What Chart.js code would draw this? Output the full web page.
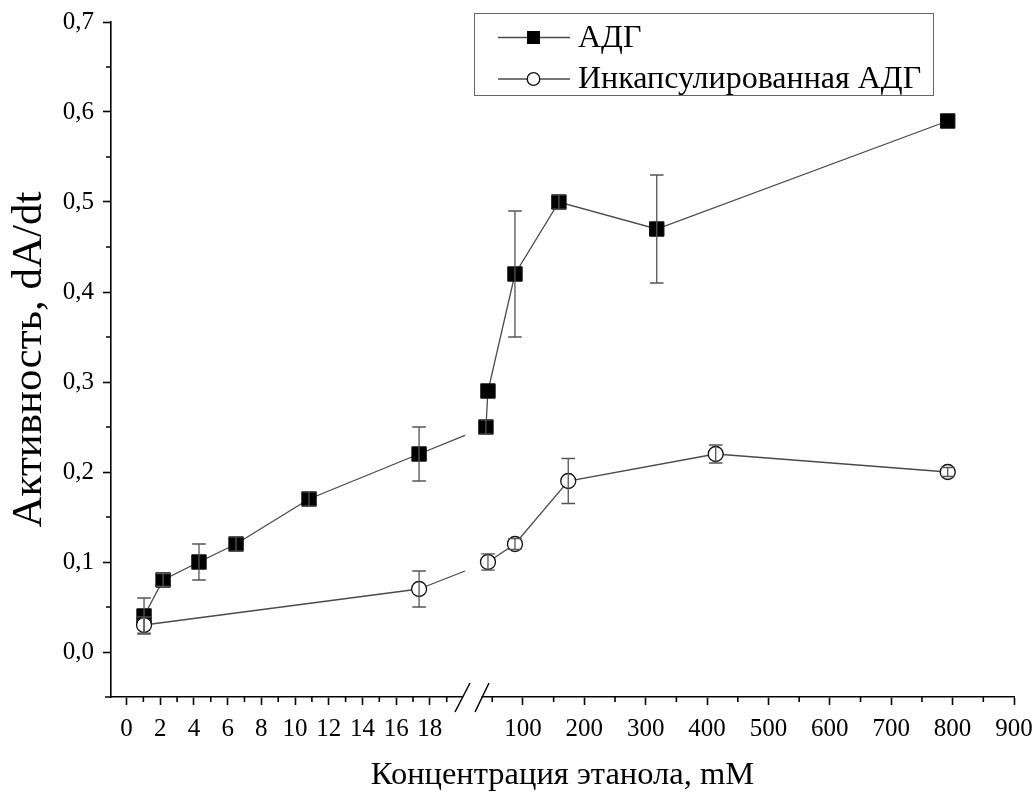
<!DOCTYPE html>
<html>
<head>
<meta charset="utf-8">
<script src="https://cdn.jsdelivr.net/npm/chart.js@4"></script>
<style>
  html, body { margin: 0; padding: 0; background: #fff; }
  canvas { display: block; }
</style>
</head>
<body>
<canvas id="c" width="1036" height="796"></canvas>
<script>
// ---- data ----
const seriesNames = ['АДГ', 'Инкапсулированная АДГ'];

const adgConcLeft  = [1.04, 2.17, 4.3, 6.5, 10.83, 17.36];
const adgLeft      = [0.04, 0.08, 0.10, 0.12, 0.17, 0.22];
const adgLeftErr   = [0.02, 0.007, 0.02, 0.008, 0.008, 0.03];
const adgConcRight = [39.7, 43, 87, 158.6, 318, 792];
const adgRight     = [0.25, 0.29, 0.42, 0.50, 0.47, 0.59];
const adgRightErr  = [0.008, 0, 0.07, 0.008, 0.06, 0];

const encConcLeft  = [1.04, 17.36];
const encLeft      = [0.03, 0.07];
const encLeftErr   = [0.009, 0.02];
const encConcRight = [43, 87, 173.8, 414, 792];
const encRight     = [0.10, 0.12, 0.19, 0.22, 0.20];
const encRightErr  = [0.009, 0.006, 0.025, 0.01, 0.005];

const xLeftMajor  = [0, 2, 4, 6, 8, 10, 12, 14, 16, 18];
const xLeftMinor  = [1, 3, 5, 7, 9, 11, 13, 15, 17, 19];
const xRightMajor = [100, 200, 300, 400, 500, 600, 700, 800, 900];
const xRightMinor = [50, 150, 250, 350, 450, 550, 650, 750, 850];
const yMajor = [0, 0.1, 0.2, 0.3, 0.4, 0.5, 0.6, 0.7];
const yMinor = [0.05, 0.15, 0.25, 0.35, 0.45, 0.55, 0.65];

const xTitle = 'Концентрация этанола, mM';
const yTitle = 'Активность, dA/dt';

// ---- styling ----
const FONT = "'Liberation Serif', 'Times New Roman', serif";
const LINE_COL = '#4a4a4a';
const AXIS_COL = '#000';

function pts(xs, ys) { return xs.map((x, i) => ({ x: x, y: ys[i] })); }

const squareStyle = {
  pointStyle: 'rect', pointRadius: 10.2, pointHoverRadius: 10.2,
  pointBackgroundColor: '#000', pointBorderColor: '#111', pointBorderWidth: 1,
  borderColor: LINE_COL, borderWidth: 1.3, showLine: true, fill: false, tension: 0
};
const circleStyle = {
  pointStyle: 'circle', pointRadius: 7.5, pointHoverRadius: 7.5,
  pointBackgroundColor: '#fff', pointBorderColor: '#111', pointBorderWidth: 1.3,
  borderColor: LINE_COL, borderWidth: 1.3, showLine: true, fill: false, tension: 0
};

const datasets = [
  Object.assign({ label: seriesNames[0], xAxisID: 'xL', data: pts(adgConcLeft, adgLeft), errors: adgLeftErr, order: 2 }, squareStyle),
  Object.assign({ label: seriesNames[0], xAxisID: 'xR', data: pts(adgConcRight, adgRight), errors: adgRightErr, order: 2 }, squareStyle),
  Object.assign({ label: seriesNames[1], xAxisID: 'xL', data: pts(encConcLeft, encLeft), errors: encLeftErr, order: 1 }, circleStyle),
  Object.assign({ label: seriesNames[1], xAxisID: 'xR', data: pts(encConcRight, encRight), errors: encRightErr, order: 1 }, circleStyle)
];

function setTicks(values) {
  return function (scale) { scale.ticks = values.map(v => ({ value: v })); };
}

// ---- plugins ----
const connectorPlugin = {
  id: 'connector',
  beforeDatasetsDraw(chart) {
    const ctx = chart.ctx;
    const brk = chart.scales.xL.right;
    ctx.save();
    ctx.strokeStyle = LINE_COL;
    ctx.lineWidth = 1.3;
    [[0, 1], [2, 3]].forEach(([a, b]) => {
      const ma = chart.getDatasetMeta(a).data;
      const mb = chart.getDatasetMeta(b).data;
      const p = ma[ma.length - 1], q = mb[0];
      const yAt = x => p.y + (q.y - p.y) * (x - p.x) / (q.x - p.x);
      const x1 = brk - 7, x2 = brk + 9;
      ctx.beginPath();
      ctx.moveTo(p.x, p.y); ctx.lineTo(x1, yAt(x1));
      ctx.moveTo(x2, yAt(x2)); ctx.lineTo(q.x, q.y);
      ctx.stroke();
    });
    ctx.restore();
  }
};

const errorBarPlugin = {
  id: 'errorBars',
  afterDatasetsDraw(chart) {
    const ctx = chart.ctx;
    const y = chart.scales.y;
    ctx.save();
    ctx.strokeStyle = '#555';
    ctx.lineWidth = 1.3;
    chart.data.datasets.forEach((ds, di) => {
      const meta = chart.getDatasetMeta(di);
      meta.data.forEach((el, i) => {
        const e = ds.errors[i];
        if (!e) return;
        const v = ds.data[i].y;
        const yt = y.getPixelForValue(v + e), yb = y.getPixelForValue(v - e);
        const hw = 6.8;
        ctx.beginPath();
        ctx.moveTo(el.x, yt); ctx.lineTo(el.x, yb);
        ctx.moveTo(el.x - hw, yt); ctx.lineTo(el.x + hw, yt);
        ctx.moveTo(el.x - hw, yb); ctx.lineTo(el.x + hw, yb);
        ctx.stroke();
      });
    });
    ctx.restore();
  }
};

const axisExtrasPlugin = {
  id: 'axisExtras',
  afterDraw(chart) {
    const ctx = chart.ctx;
    const { xL, xR, y } = chart.scales;
    const base = xL.top;
    ctx.save();
    ctx.strokeStyle = AXIS_COL;
    ctx.lineWidth = 1.6;
    ctx.beginPath();
    // minor ticks
    xLeftMinor.forEach(v => { const px = xL.getPixelForValue(v); ctx.moveTo(px, base); ctx.lineTo(px, base + 5); });
    xRightMinor.forEach(v => { const px = xR.getPixelForValue(v); ctx.moveTo(px, base); ctx.lineTo(px, base + 5); });
    yMinor.forEach(v => { const py = y.getPixelForValue(v); ctx.moveTo(y.right, py); ctx.lineTo(y.right - 5, py); });
    // small extension of the x axis to the left of the y axis
    ctx.moveTo(y.right - 6, base); ctx.lineTo(y.right, base);
    ctx.stroke();
    // axis break
    const brk = xL.right;
    ctx.fillStyle = '#fff';
    ctx.fillRect(brk - 9.5, base - 3, 19, 6);
    ctx.lineWidth = 1.5;
    ctx.beginPath();
    ctx.moveTo(brk - 17, base + 15); ctx.lineTo(brk - 2, base - 14);
    ctx.moveTo(brk + 3, base + 15); ctx.lineTo(brk + 17, base - 14);
    ctx.stroke();
    ctx.restore();
  }
};

const legendPlugin = {
  id: 'customLegend',
  afterDraw(chart) {
    const ctx = chart.ctx;
    const L = 474, T = 13, R = 933, B = 95;
    ctx.save();
    ctx.fillStyle = '#fff';
    ctx.fillRect(L, T, R - L, B - T);
    ctx.strokeStyle = '#666';
    ctx.lineWidth = 1;
    ctx.strokeRect(L + 0.5, T + 0.5, R - L, B - T);
    const rows = [
      { y: 37.5, ds: chart.data.datasets[0] },
      { y: 79, ds: chart.data.datasets[2] }
    ];
    rows.forEach(r => {
      ctx.strokeStyle = LINE_COL;
      ctx.lineWidth = 1.3;
      ctx.beginPath();
      ctx.moveTo(498, r.y); ctx.lineTo(570, r.y);
      ctx.stroke();
      const cx = 533.5;
      if (r.ds.pointStyle === 'rect') {
        ctx.fillStyle = '#000';
        ctx.fillRect(cx - 6.5, r.y - 6.5, 13, 13);
      } else {
        ctx.fillStyle = '#fff';
        ctx.strokeStyle = '#111';
        ctx.beginPath();
        ctx.arc(cx, r.y, 6.3, 0, Math.PI * 2);
        ctx.fill(); ctx.stroke();
      }
      ctx.fillStyle = '#000';
      ctx.font = '32px ' + FONT;
      ctx.textBaseline = 'middle';
      ctx.textAlign = 'left';
      ctx.fillText(r.ds.label, 578, r.y + 1);
    });
    ctx.restore();
  }
};

const tickFont = { family: FONT, size: 25 };

function zeroPad(scale) {
  scale.paddingLeft = 0; scale.paddingRight = 0;
  scale.paddingTop = 0; scale.paddingBottom = 0;
}

const xCommon = {
  type: 'linear',
  position: 'bottom',
  stack: 'xstack',
  grid: { display: true, drawOnChartArea: false, drawTicks: true, tickLength: 8, tickColor: AXIS_COL, tickWidth: 1.6 },
  border: { display: true, color: AXIS_COL, width: 1.6 },
  ticks: { autoSkip: false, maxRotation: 0, minRotation: 0, color: '#000', font: tickFont, padding: 9, includeBounds: false },
  afterFit(scale) { scale.height = 58.5; zeroPad(scale); }
};

new Chart(document.getElementById('c'), {
  type: 'scatter',
  data: { datasets: datasets },
  options: {
    responsive: false,
    animation: false,
    devicePixelRatio: 1,
    layout: { padding: { left: 0, right: 22, top: 22, bottom: 0 } },
    plugins: {
      legend: { display: false },
      tooltip: { enabled: false },
      title: {
        display: true, position: 'bottom', fullSize: false,
        text: xTitle, color: '#000',
        font: { family: FONT, size: 32.5, weight: 'normal' },
        padding: { top: 0, bottom: 1.5 }
      }
    },
    scales: {
      xL: Object.assign({}, xCommon, {
        min: -0.92, max: 20.5, stackWeight: 361,
        afterBuildTicks: setTicks(xLeftMajor),
        ticks: Object.assign({}, xCommon.ticks, { callback: v => String(v) })
      }),
      xR: Object.assign({}, xCommon, {
        min: 17, max: 900, stackWeight: 542,
        afterBuildTicks: setTicks(xRightMajor),
        ticks: Object.assign({}, xCommon.ticks, { callback: v => String(v) })
      }),
      y: {
        type: 'linear', position: 'left',
        min: -0.05, max: 0.7,
        afterBuildTicks: setTicks(yMajor),
        grid: { display: true, drawOnChartArea: false, drawTicks: true, tickLength: 8, tickColor: AXIS_COL, tickWidth: 1.6 },
        border: { display: true, color: AXIS_COL, width: 1.6 },
        ticks: {
          autoSkip: false, color: '#000', font: tickFont, padding: 9,
          callback: v => v.toFixed(1).replace('.', ',')
        },
        title: {
          display: true, text: yTitle, color: '#000',
          font: { family: FONT, size: 43 },
          padding: { top: 4, bottom: 0 }
        },
        afterFit(scale) { scale.width = 111; zeroPad(scale); }
      }
    }
  },
  plugins: [connectorPlugin, errorBarPlugin, axisExtrasPlugin, legendPlugin]
});
</script>
</body>
</html>
